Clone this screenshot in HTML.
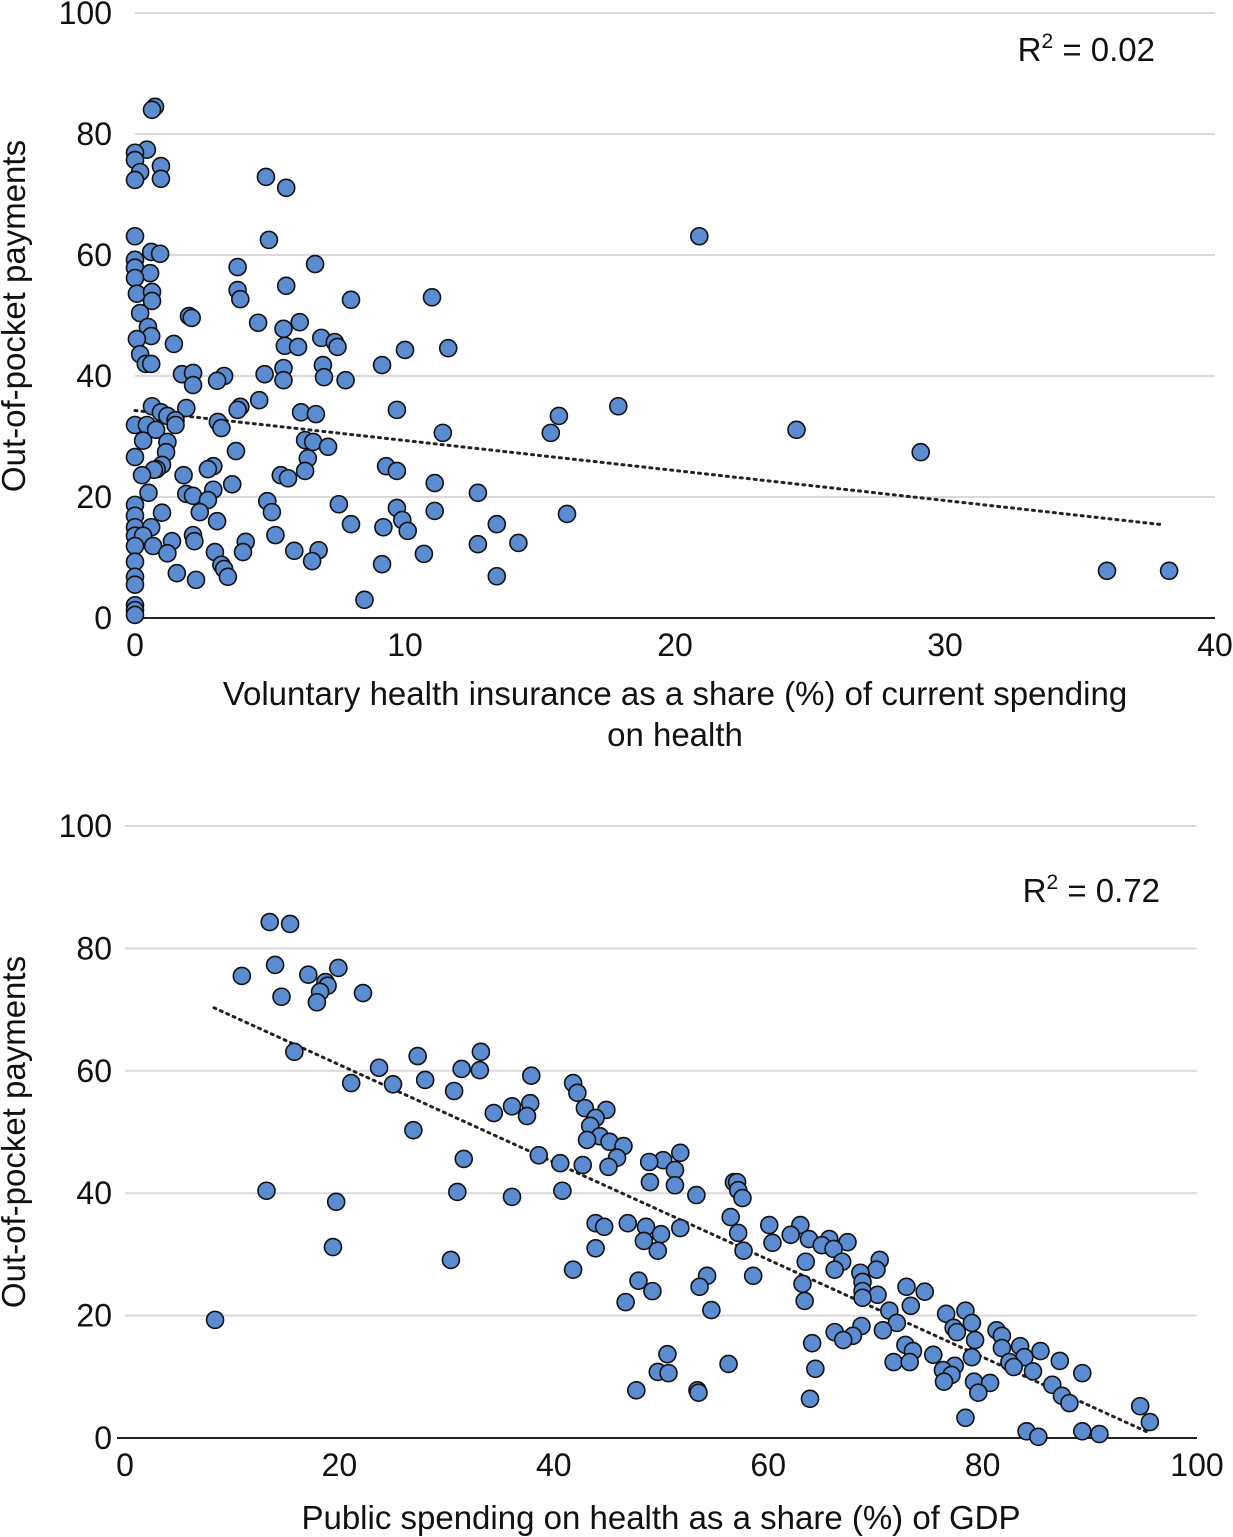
<!DOCTYPE html>
<html><head><meta charset="utf-8"><style>
html,body{margin:0;padding:0;background:#fff;}
svg{display:block;font-family:"Liberation Sans",Arial,sans-serif;}
</style></head><body>
<svg id="chart" width="1233" height="1537" viewBox="0 0 1233 1537" xmlns="http://www.w3.org/2000/svg"></svg>
<script>
// ---------- Top chart data ----------
const topX = [0.74,0.63,0.44,0,0,0.96,0.19,0,0.96,4.85,5.6,0,20.9,4.96,0.6,0.93,0,0,0.56,6.67,3.8,0,5.6,0.07,0.63,3.8,3.9,0.63,8,11,0.19,2,2.1,4.56,0.48,5.5,6.1,0.6,0.07,6.9,7.4,1.44,5.55,6.04,7.5,11.6,10,0.19,9.15,0.4,0.6,6.96,5.5,1.74,2.15,3.3,4.8,5.5,7,7.8,3.04,2.15,4.6,3.9,3.8,17.9,1.9,0.63,6.15,6.7,9.7,15.7,0.96,1.2,1.5,0,0.44,3.07,3.2,0.78,1.5,24.5,11.4,15.4,0.3,6.3,6.6,7.15,1.2,3.74,29.1,1.15,0,6.4,1,9.3,2.9,0.8,2.7,0.7,6.3,9.7,5.4,0.26,1.8,5.67,3.6,11.1,2.9,0.5,1.9,2.15,12.7,2.7,4.9,7.55,0,9.7,5.07,2.4,1,16,11.1,0,3.04,9.9,13.4,8,0,0.6,9.2,10.1,0,0.3,2.15,5.2,1.37,4.1,2.2,14.2,12.7,0,0.67,6.8,1.2,4,5.9,2.96,10.7,0,6.56,9.15,3.2,3.3,1.55,3.44,13.4,36,38.3,2.26,0,0,8.5,0,0,0];
const topY = [84.5,84,77.4,76.9,75.7,74.7,73.7,72.4,72.6,72.9,71.1,63.1,63.1,62.5,60.5,60.2,59.2,57.9,57,58.5,58,56.2,54.9,53.6,53.9,54.2,52.7,52.4,52.6,53,50.4,49.9,49.6,48.8,48.1,47.8,48.9,46.6,46.1,46.3,45.6,45.3,45,44.8,44.8,44.6,44.3,43.6,41.8,42,42,41.8,41.3,40.3,40.5,40,40.3,39.3,39.8,39.3,39.2,38.5,36,34.9,34.4,35,34.7,35,34,33.7,34.4,33.4,34,33.4,32.7,31.9,31.9,32.4,31.4,31.1,31.9,31.1,30.6,30.6,29.3,29.4,29.1,28.3,29.1,27.6,27.4,27.4,26.6,26.4,25.3,25.1,25.1,24.6,24.6,24.5,24.3,24.3,23.6,23.6,23.6,23.1,22.1,22.3,21.2,20.7,20.5,20.2,20.7,19.5,19.3,18.8,18.7,18.2,17.5,17.5,17.4,17.2,17.7,16.9,16,16.2,15.5,15.5,15,15,15,14.4,13.6,13.6,13.7,13.7,12.7,12.6,12.7,12.4,12.2,11.9,11.9,11.2,10.7,10.9,11.1,10.9,10.6,9.3,9.4,8.9,8.8,8.1,7.4,6.8,6.9,7.8,7.8,6.3,6.8,5.5,3,2.1,1.3,0.5];
const topTrendX = [0, 38.1];
const topTrendY = [34.3, 15.4];
const topXTicks = [0,10,20,30,40];
const topYTicks = [0,20,40,60,80,100];
const topR2 = "0.02";

// ---------- Bottom chart data ----------
const botX = [13.5,15.4,14,19.9,10.9,17.1,18.7,18.9,18.2,22.2,14.6,17.9,15.8,33.2,27.3,23.7,31.4,33.1,37.9,28,21.1,25,41.8,42.2,30.7,36.1,37.8,42.9,44.9,34.4,37.5,43.9,43.4,26.9,44.3,43.1,45.2,46.5,51.8,38.6,45.9,50.2,48.9,31.6,40.6,42.7,45.1,51.3,48.97,56.8,57.1,51.3,13.2,31,40.8,57.2,53.3,36.1,57.6,19.7,56.5,60.1,63,46.9,43.9,44.7,48.6,51.8,50,62.1,57.2,63.8,65.7,67.4,60.4,48.4,65,66.1,43.9,49.7,57.7,19.4,30.4,70.4,63.5,66.9,70.1,66.2,68.6,41.8,58.6,54.3,68.8,63.2,47.9,53.6,72.9,74.6,68.8,49.2,70.2,68.8,63.4,46.7,73.3,71.3,54.7,76.6,78.4,79,8.4,72,77.3,68.7,77.6,70.7,81.3,66.2,81.8,67.9,67,79.3,64.1,72.8,83.5,81.8,85.4,73.5,75.4,79,83.9,87.2,71.7,73.2,82.5,82.9,77.4,56.3,64.4,89.3,76.3,84.7,50.6,49.7,50.7,77.1,79.2,76.4,80.7,86.5,47.7,53.4,53.5,79.6,87.4,88.1,94.7,63.9,78.4,95.6,84.1,89.3,90.9,85.2];
const botY = [84.3,84,77.3,76.8,75.5,75.7,74.5,73.9,72.9,72.7,72.1,71.2,63.1,63.1,62.4,60.5,60.3,60.1,59.2,58.5,58,57.8,58,56.4,56.7,54.2,54.7,53.9,53.6,53.1,52.6,52.3,51,50.3,49.3,48.7,48.4,47.7,46.6,46.2,45.8,45.4,45.1,45.6,44.9,44.6,44.3,43.8,41.8,41.8,41.8,41.3,40.4,40.2,40.4,40.5,39.7,39.4,39.2,38.6,36.1,34.8,34.8,35.1,35.1,34.5,34.5,34.3,33.3,33.2,33.5,32.5,32.5,32,31.9,32.2,31.5,30.9,31,30.6,30.6,31.2,29.1,29.1,28.8,28.8,27.5,27.5,27,27.5,26.5,26.5,25.5,25.2,25.7,24.7,24.7,23.9,24,24,23.4,22.9,22.4,22.2,21.6,20.8,20.9,20.3,20.8,18.8,19.3,18.8,18,18.3,17.3,17.6,17.6,17.3,16.7,16.7,16,16,15.5,15.2,15,14.7,14.2,14.2,13.6,13.2,13.2,12.6,12.4,12.4,12.4,11.6,11.8,12.1,11.3,10.6,11.1,10.9,13.7,10.8,10.6,10.3,9.2,9.2,9,8.7,7.8,7.8,7.4,7.4,6.9,5.7,5.2,6.4,3.3,2.6,1.1,1.1,0.65,0.2];
const botTrendX = [8.3, 95.6];
const botTrendY = [70.3, 0.8];
const botXTicks = [0,20,40,60,80,100];
const botYTicks = [0,20,40,60,80,100];
const botR2 = "0.72";

const NS = "http://www.w3.org/2000/svg";
const svg = document.getElementById("chart");
function mk(tag, attrs, parent){
  const e = document.createElementNS(NS, tag);
  for (const k in attrs) e.setAttribute(k, attrs[k]);
  (parent||svg).appendChild(e);
  return e;
}

function drawChart(cfg){
  const g = mk("g", {});
  
  
  const sx = v => cfg.x0 + (v - cfg.xmin) / (cfg.xmax - cfg.xmin) * (cfg.x1 - cfg.x0);
  const sy = v => cfg.y0 - (v - cfg.ymin) / (cfg.ymax - cfg.ymin) * (cfg.y0 - cfg.y1);

  cfg.yTicks.forEach(t => {
    const y = sy(t);
    if (t !== cfg.ymin) {
      const l = mk("line", {x1: cfg.x0, x2: cfg.x1, y1: y, y2: y, stroke: "#d9d9d9", "stroke-width": 2}, g);
      
      
    }
    const tx = mk("text", {x: 112, y: y + 11, "text-anchor": "end", "font-size": 32, fill: "#111"}, g);
    tx.textContent = t;
    
    
  });
  const ax = mk("line", {x1: cfg.x0 - 8, x2: cfg.x1, y1: sy(cfg.ymin), y2: sy(cfg.ymin), stroke: "#222", "stroke-width": 2}, g);
  
  
  cfg.xTicks.forEach(t => {
    const tx = mk("text", {x: sx(t), y: sy(cfg.ymin) + 38, "text-anchor": "middle", "font-size": 32, fill: "#111"}, g);
    tx.textContent = t;
    
    
  });
  const tr = mk("line", {x1: sx(cfg.tx[0]), y1: sy(cfg.ty[0]), x2: sx(cfg.tx[1]), y2: sy(cfg.ty[1]), stroke: "#222", "stroke-width": 3, "stroke-dasharray": "2 5", "stroke-linecap": "round"}, g);
  
  
  cfg.xs.forEach((v, i) => {
    const c = mk("circle", {cx: sx(v), cy: sy(cfg.ys[i]), r: 8.5, fill: "#5b8bd0", stroke: "#111", "stroke-width": 1.6}, g);
    
    
  });
  const r = mk("text", {x: cfg.r2x, y: cfg.r2y, "text-anchor": "end", "font-size": 33, fill: "#111"}, g);
  r.innerHTML = 'R<tspan dy="-13" font-size="21">2</tspan><tspan dy="13"> = ' + cfg.r2 + '</tspan>';
  
  
  const yt = mk("text", {x: 0, y: 0, "text-anchor": "middle", "font-size": 33, fill: "#111", transform: "translate(25," + cfg.ytitleY + ") rotate(-90)"}, g);
  yt.textContent = "Out-of-pocket payments";
  
  
  cfg.xtitle.forEach((line, i) => {
    const xt = mk("text", {x: cfg.xtitleX, y: cfg.xtitleY + i * 41, "text-anchor": "middle", "font-size": 33, fill: "#111"}, g);
    xt.textContent = line;
    
    
  });
}

drawChart({name: "top-scatter-chart", x0: 135, x1: 1215, y0: 618, y1: 13, xmin: 0, xmax: 40, ymin: 0, ymax: 100,
  xs: topX, ys: topY, tx: topTrendX, ty: topTrendY, xTicks: topXTicks, yTicks: topYTicks,
  r2: topR2, r2x: 1155, r2y: 61, ytitleY: 316, xtitleX: 675, xtitleY: 705,
  xtitle: ["Voluntary health insurance as a share (%) of current spending", "on health"]});

drawChart({name: "bottom-scatter-chart", x0: 125, x1: 1197, y0: 1438, y1: 826, xmin: 0, xmax: 100, ymin: 0, ymax: 100,
  xs: botX, ys: botY, tx: botTrendX, ty: botTrendY, xTicks: botXTicks, yTicks: botYTicks,
  r2: botR2, r2x: 1160, r2y: 902, ytitleY: 1132, xtitleX: 661, xtitleY: 1529,
  xtitle: ["Public spending on health as a share (%) of GDP"]});
</script>
</body></html>
